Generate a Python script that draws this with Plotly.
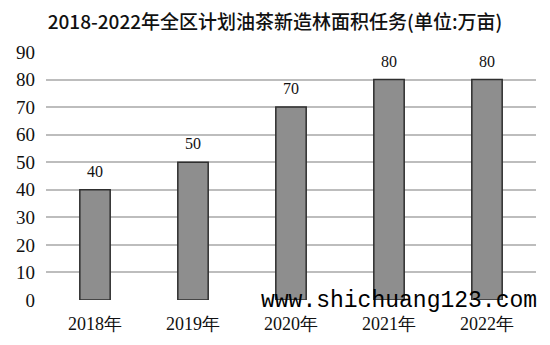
import plotly.graph_objects as go

years = ["2018年", "2019年", "2020年", "2021年", "2022年"]
values = [40, 50, 70, 80, 80]
title_text = "2018-2022年全区计划油茶新造林面积任务(单位:万亩)"
y_ticks = [0, 10, 20, 30, 40, 50, 60, 70, 80, 90]
watermark = "www.shichuang123.com"

serif = "Liberation Serif, Times New Roman, serif"

fig = go.Figure()
fig.add_trace(go.Bar(
    x=years, y=values,
    marker=dict(color="#8e8e8e", line=dict(color="#2e2e2e", width=1.5)),
    width=0.31,
    hoverinfo="skip",
))

for x, v in zip(years, values):
    fig.add_annotation(x=x, y=v, text=str(v), showarrow=False,
                       yanchor="bottom", yshift=8,
                       font=dict(family=serif, size=16, color="#111"))

fig.add_annotation(xref="paper", yref="paper", x=0.72, y=-0.005,
                   text=watermark, showarrow=False, xanchor="center", yanchor="middle",
                   font=dict(family="Liberation Mono, DejaVu Sans Mono, monospace", size=23, color="#000"))

fig.update_layout(
    width=550, height=345,
    margin=dict(l=46, r=14, t=52, b=45),
    paper_bgcolor="white", plot_bgcolor="white",
    showlegend=False,
    title=dict(text=title_text, x=0.5, xanchor="center", y=0.935, yanchor="middle",
               font=dict(family="Noto Sans CJK SC", size=19, color="#111", weight=500)),
    xaxis=dict(showgrid=False, showline=False, ticks="",
               tickfont=dict(family=serif, size=18, color="#111"),
               ticklabelstandoff=11),
    yaxis=dict(range=[0, 90], tickvals=y_ticks, showgrid=True, gridcolor="#bdbdbd",
               gridwidth=1.5, zeroline=False, showline=False, ticks="",
               tickfont=dict(family=serif, size=19, color="#111"),
               ticklabelstandoff=10),
)

fig.write_html("out.html")
